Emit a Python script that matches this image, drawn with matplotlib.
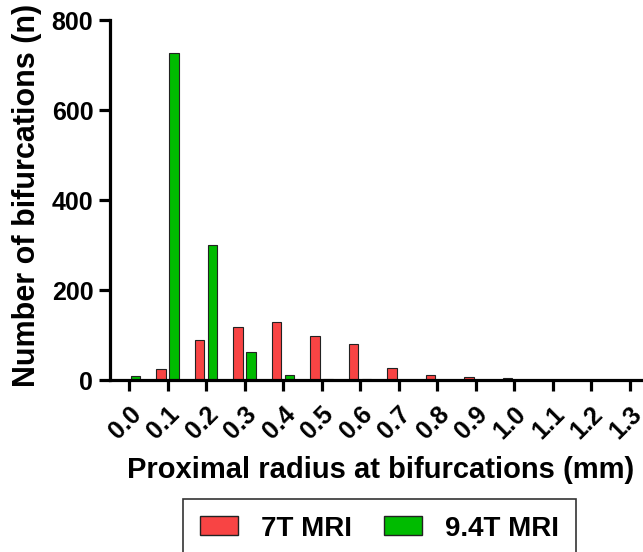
import matplotlib
matplotlib.use('Agg')
import matplotlib.pyplot as plt
import numpy as np
from matplotlib.patches import Patch

plt.rcParams['font.family'] = ['Liberation Sans', 'DejaVu Sans']
plt.rcParams['font.weight'] = 'bold'

RED = '#F84444'
GREEN = '#00BB00'

# 近位半径のビン (mm)
radius = [0.0, 0.1, 0.2, 0.3, 0.4, 0.5, 0.6, 0.7, 0.8, 0.9, 1.0, 1.1, 1.2, 1.3]
radius_labels = ['0.0', '0.1', '0.2', '0.3', '0.4', '0.5', '0.6',
                 '0.7', '0.8', '0.9', '1.0', '1.1', '1.2', '1.3']
count_7t = [0, 24, 89, 118, 129, 97, 79, 27, 12, 7, 5, 0, 0, 0]
count_94t = [9, 727, 299, 62, 12, 3, 2, 0, 0, 0, 0, 0, 0, 0]
y_ticks = [0, 200, 400, 600, 800]

BAR_W = 0.024
OFFSET = 0.017

fig = plt.figure(figsize=(6.43, 5.52), dpi=100)
ax = fig.add_axes([110 / 643, 1 - 380 / 552, 1 - 110 / 643, 360 / 552])

x = np.array(radius)
ax.bar(x - OFFSET, count_7t, width=BAR_W, color=RED, edgecolor='#222222', linewidth=0.8)
ax.bar(x + OFFSET, count_94t, width=BAR_W, color=GREEN, edgecolor='#222222', linewidth=0.8)

ax.set_xlim(-0.0494, 1.335)
ax.set_ylim(0, 800)
ax.set_yticks(y_ticks)
ax.set_xticks(radius)
ax.set_xticklabels(radius_labels, rotation=45, ha='right', rotation_mode='anchor')

for s in ['top', 'right']:
    ax.spines[s].set_visible(False)
for s in ['left', 'bottom']:
    ax.spines[s].set_linewidth(2.3)
ax.tick_params(axis='y', length=8, width=2.3, pad=4, labelsize=18)
ax.tick_params(axis='x', length=8, width=2.3, pad=8, labelsize=18)

fig.text(27 / 643, 1 - 195 / 552, 'Number of bifurcations (n)', rotation=90,
         ha='center', va='center', fontsize=22, fontweight='bold')
fig.text(381 / 643, 1 - 470 / 552, 'Proximal radius at bifurcations (mm)',
         ha='center', va='center', fontsize=21, fontweight='bold')

handles = [Patch(facecolor=RED, edgecolor='#222222', label='7T MRI'),
           Patch(facecolor=GREEN, edgecolor='#222222', label='9.4T MRI')]
leg = fig.legend(handles=handles, loc='upper left', ncol=2,
                 bbox_to_anchor=(183 / 643, 1 - 499 / 552), bbox_transform=fig.transFigure,
                 borderaxespad=0, fontsize=20, handlelength=1.37, handleheight=0.68,
                 handletextpad=0.83, columnspacing=1.15, borderpad=0.6,
                 fancybox=False, frameon=True)
leg.get_frame().set_edgecolor('black')
leg.get_frame().set_linewidth(1.2)

fig.savefig('out.png', dpi=100)
